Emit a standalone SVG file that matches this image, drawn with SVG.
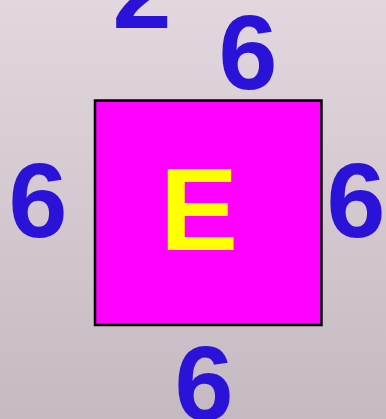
<svg xmlns="http://www.w3.org/2000/svg" width="386" height="419" viewBox="0 0 386 419">
<defs>
<linearGradient id="bg" x1="0" y1="0" x2="0" y2="1">
<stop offset="0" stop-color="#e3d7df"/>
<stop offset="1" stop-color="#c6bac2"/>
</linearGradient>
<style>
.num{font-family:"Liberation Sans",Arial,sans-serif;font-weight:bold;font-size:106px;fill:#2a12d8;text-anchor:middle}
.lbl{font-family:"Liberation Sans",Arial,sans-serif;font-weight:bold;font-size:117px;fill:#ffff00;text-anchor:middle}
</style>
</defs>
<rect x="0" y="0" width="386" height="419" fill="url(#bg)"/>
<g id="square">
<rect x="95" y="100.5" width="226.5" height="224.5" fill="#ff00ff" stroke="#000" stroke-width="2.5"/>
<text class="lbl" x="199" y="250">E</text>
</g>
<g id="labels">
<text class="num" x="142" y="28">2</text>
<text class="num" x="248" y="89">6</text>
<text class="num" x="38" y="237">6</text>
<text class="num" x="356" y="237">6</text>
<text class="num" x="204" y="420">6</text>
</g>
</svg>
